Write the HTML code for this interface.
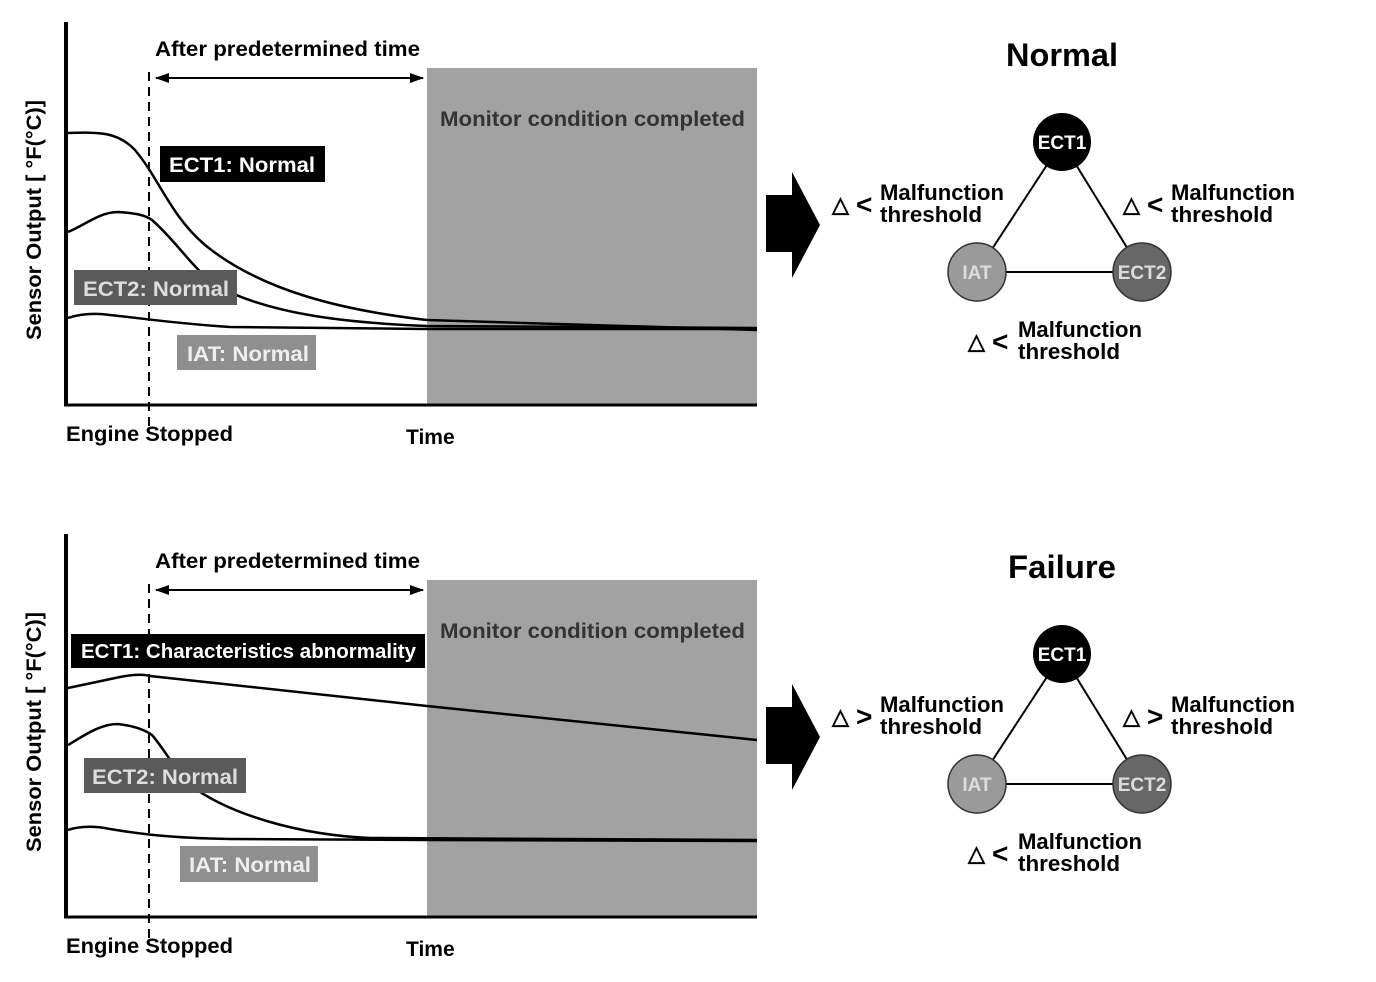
<!DOCTYPE html>
<html><head><meta charset="utf-8"><style>
html,body{margin:0;padding:0;background:#fff;}
svg{display:block;}
text{font-family:"Liberation Sans",Arial,sans-serif;font-weight:bold;}
</style></head><body>
<svg width="1376" height="982" viewBox="0 0 1376 982" xmlns="http://www.w3.org/2000/svg">
<defs>
<marker id="ah" markerWidth="14" markerHeight="10" refX="13" refY="5" orient="auto" markerUnits="userSpaceOnUse"><path d="M0,0 L14,5 L0,10 Z" fill="#000"/></marker>
<marker id="ahs" markerWidth="14" markerHeight="10" refX="1" refY="5" orient="auto" markerUnits="userSpaceOnUse"><path d="M14,0 L0,5 L14,10 Z" fill="#000"/></marker>
</defs>

<!-- ========== TOP PANEL ========== -->
<g>
<rect x="427" y="68" width="330" height="337" fill="#a2a2a2"/>
<text x="440" y="126" font-size="21" fill="#333" textLength="305" lengthAdjust="spacingAndGlyphs">Monitor condition completed</text>
<line x1="66" y1="22" x2="66" y2="406" stroke="#000" stroke-width="4"/>
<line x1="64" y1="405" x2="757" y2="405" stroke="#000" stroke-width="3"/>
<line x1="149" y1="72" x2="149" y2="432" stroke="#000" stroke-width="2" stroke-dasharray="9,6"/>
<line x1="156" y1="78" x2="423" y2="78" stroke="#000" stroke-width="2" marker-end="url(#ah)" marker-start="url(#ahs)"/>
<text x="155" y="56" font-size="21" textLength="265" lengthAdjust="spacingAndGlyphs">After predetermined time</text>
<text transform="translate(41,220) rotate(-90)" font-size="21" text-anchor="middle" textLength="240" lengthAdjust="spacingAndGlyphs">Sensor Output [ °F(°C)]</text>
<text x="66" y="441" font-size="21" textLength="167" lengthAdjust="spacingAndGlyphs">Engine Stopped</text>
<text x="406" y="444" font-size="21">Time</text>
<path d="M68,133 C100,132 118,132 135,150 C160,180 170,215 205,245 C260,290 340,310 427,320 L757,330" fill="none" stroke="#000" stroke-width="2.5"/>
<path d="M68,232 C85,225 100,212 118,212 C135,213 145,215 152,220 C175,240 190,265 215,285 C270,315 350,323 427,326 L757,328" fill="none" stroke="#000" stroke-width="2.5"/>
<path d="M68,318 C80,314 95,313 110,315 C140,318 170,323 230,327 L427,329 L757,329" fill="none" stroke="#000" stroke-width="2.5"/>
<rect x="160" y="146" width="165" height="36" fill="#000"/>
<text x="169" y="172" font-size="21" fill="#fff" textLength="146" lengthAdjust="spacingAndGlyphs">ECT1: Normal</text>
<rect x="74" y="270" width="163" height="35" fill="#5a5a5a"/>
<text x="83" y="296" font-size="21" fill="#ddd" textLength="146" lengthAdjust="spacingAndGlyphs">ECT2: Normal</text>
<rect x="177" y="335" width="139" height="35" fill="#8f8f8f"/>
<text x="187" y="361" font-size="21" fill="#eee" textLength="122" lengthAdjust="spacingAndGlyphs">IAT: Normal</text>
<path d="M766,195 L792,195 L792,172 L820,225 L792,278 L792,252 L766,252 Z" fill="#000"/>
<text x="1062" y="66" font-size="32" text-anchor="middle" textLength="112" lengthAdjust="spacingAndGlyphs">Normal</text>
<line x1="1062" y1="142" x2="977" y2="272" stroke="#000" stroke-width="2"/>
<line x1="1062" y1="142" x2="1142" y2="272" stroke="#000" stroke-width="2"/>
<line x1="977" y1="272" x2="1142" y2="272" stroke="#000" stroke-width="2"/>
<circle cx="1062" cy="142" r="29" fill="#000"/>
<circle cx="977" cy="272" r="29" fill="#9a9a9a" stroke="#333" stroke-width="1.5"/>
<circle cx="1142" cy="272" r="29" fill="#666" stroke="#333" stroke-width="1.5"/>
<text x="1062" y="149" font-size="19" fill="#fff" text-anchor="middle">ECT1</text>
<text x="977" y="279" font-size="19" fill="#ddd" text-anchor="middle">IAT</text>
<text x="1142" y="279" font-size="19" fill="#ddd" text-anchor="middle">ECT2</text>
<text x="832" y="212" font-size="22" font-weight="normal">△</text><text x="856" y="214" font-size="28" font-weight="normal">&lt;</text>
<text x="880" y="200" font-size="22" textLength="124" lengthAdjust="spacingAndGlyphs">Malfunction</text><text x="880" y="222" font-size="22" textLength="102" lengthAdjust="spacingAndGlyphs">threshold</text>
<text x="1123" y="212" font-size="22" font-weight="normal">△</text><text x="1147" y="214" font-size="28" font-weight="normal">&lt;</text>
<text x="1171" y="200" font-size="22" textLength="124" lengthAdjust="spacingAndGlyphs">Malfunction</text><text x="1171" y="222" font-size="22" textLength="102" lengthAdjust="spacingAndGlyphs">threshold</text>
<text x="968" y="349" font-size="22" font-weight="normal">△</text><text x="992" y="351" font-size="28" font-weight="normal">&lt;</text>
<text x="1018" y="337" font-size="22" textLength="124" lengthAdjust="spacingAndGlyphs">Malfunction</text><text x="1018" y="359" font-size="22" textLength="102" lengthAdjust="spacingAndGlyphs">threshold</text>
</g>

<!-- ========== BOTTOM PANEL ========== -->
<g>
<rect x="427" y="580" width="330" height="337" fill="#a2a2a2"/>
<text x="440" y="638" font-size="21" fill="#333" textLength="305" lengthAdjust="spacingAndGlyphs">Monitor condition completed</text>
<line x1="66" y1="534" x2="66" y2="918" stroke="#000" stroke-width="4"/>
<line x1="64" y1="917" x2="757" y2="917" stroke="#000" stroke-width="3"/>
<line x1="149" y1="584" x2="149" y2="944" stroke="#000" stroke-width="2" stroke-dasharray="9,6"/>
<line x1="156" y1="590" x2="423" y2="590" stroke="#000" stroke-width="2" marker-end="url(#ah)" marker-start="url(#ahs)"/>
<text x="155" y="568" font-size="21" textLength="265" lengthAdjust="spacingAndGlyphs">After predetermined time</text>
<text transform="translate(41,732) rotate(-90)" font-size="21" text-anchor="middle" textLength="240" lengthAdjust="spacingAndGlyphs">Sensor Output [ °F(°C)]</text>
<text x="66" y="953" font-size="21" textLength="167" lengthAdjust="spacingAndGlyphs">Engine Stopped</text>
<text x="406" y="956" font-size="21">Time</text>
<path d="M68,688 L120,677 Q140,673 150,676 L427,706 L757,740" fill="none" stroke="#000" stroke-width="2.5"/>
<path d="M68,745 C85,735 100,724 118,724 C135,726 145,730 152,735 C165,750 175,770 190,785 C230,815 300,835 370,838 L757,840" fill="none" stroke="#000" stroke-width="2.5"/>
<path d="M68,830 C80,826 95,826 110,829 C140,834 170,838 230,839 L427,840 L757,841" fill="none" stroke="#000" stroke-width="2.5"/>
<rect x="71" y="634" width="354" height="34" fill="#000"/>
<text x="81" y="658" font-size="20" fill="#fff" textLength="335" lengthAdjust="spacingAndGlyphs">ECT1: Characteristics abnormality</text>
<rect x="84" y="758" width="162" height="35" fill="#5a5a5a"/>
<text x="92" y="784" font-size="21" fill="#ddd" textLength="146" lengthAdjust="spacingAndGlyphs">ECT2: Normal</text>
<rect x="180" y="846" width="138" height="36" fill="#8f8f8f"/>
<text x="189" y="872" font-size="21" fill="#eee" textLength="122" lengthAdjust="spacingAndGlyphs">IAT: Normal</text>
<path d="M766,707 L792,707 L792,684 L820,737 L792,790 L792,764 L766,764 Z" fill="#000"/>
<text x="1062" y="578" font-size="32" text-anchor="middle" textLength="108" lengthAdjust="spacingAndGlyphs">Failure</text>
<line x1="1062" y1="654" x2="977" y2="784" stroke="#000" stroke-width="2"/>
<line x1="1062" y1="654" x2="1142" y2="784" stroke="#000" stroke-width="2"/>
<line x1="977" y1="784" x2="1142" y2="784" stroke="#000" stroke-width="2"/>
<circle cx="1062" cy="654" r="29" fill="#000"/>
<circle cx="977" cy="784" r="29" fill="#9a9a9a" stroke="#333" stroke-width="1.5"/>
<circle cx="1142" cy="784" r="29" fill="#666" stroke="#333" stroke-width="1.5"/>
<text x="1062" y="661" font-size="19" fill="#fff" text-anchor="middle">ECT1</text>
<text x="977" y="791" font-size="19" fill="#ddd" text-anchor="middle">IAT</text>
<text x="1142" y="791" font-size="19" fill="#ddd" text-anchor="middle">ECT2</text>
<text x="832" y="724" font-size="22" font-weight="normal">△</text><text x="856" y="726" font-size="28" font-weight="normal">&gt;</text>
<text x="880" y="712" font-size="22" textLength="124" lengthAdjust="spacingAndGlyphs">Malfunction</text><text x="880" y="734" font-size="22" textLength="102" lengthAdjust="spacingAndGlyphs">threshold</text>
<text x="1123" y="724" font-size="22" font-weight="normal">△</text><text x="1147" y="726" font-size="28" font-weight="normal">&gt;</text>
<text x="1171" y="712" font-size="22" textLength="124" lengthAdjust="spacingAndGlyphs">Malfunction</text><text x="1171" y="734" font-size="22" textLength="102" lengthAdjust="spacingAndGlyphs">threshold</text>
<text x="968" y="861" font-size="22" font-weight="normal">△</text><text x="992" y="863" font-size="28" font-weight="normal">&lt;</text>
<text x="1018" y="849" font-size="22" textLength="124" lengthAdjust="spacingAndGlyphs">Malfunction</text><text x="1018" y="871" font-size="22" textLength="102" lengthAdjust="spacingAndGlyphs">threshold</text>
</g>
</svg>
</body></html>
